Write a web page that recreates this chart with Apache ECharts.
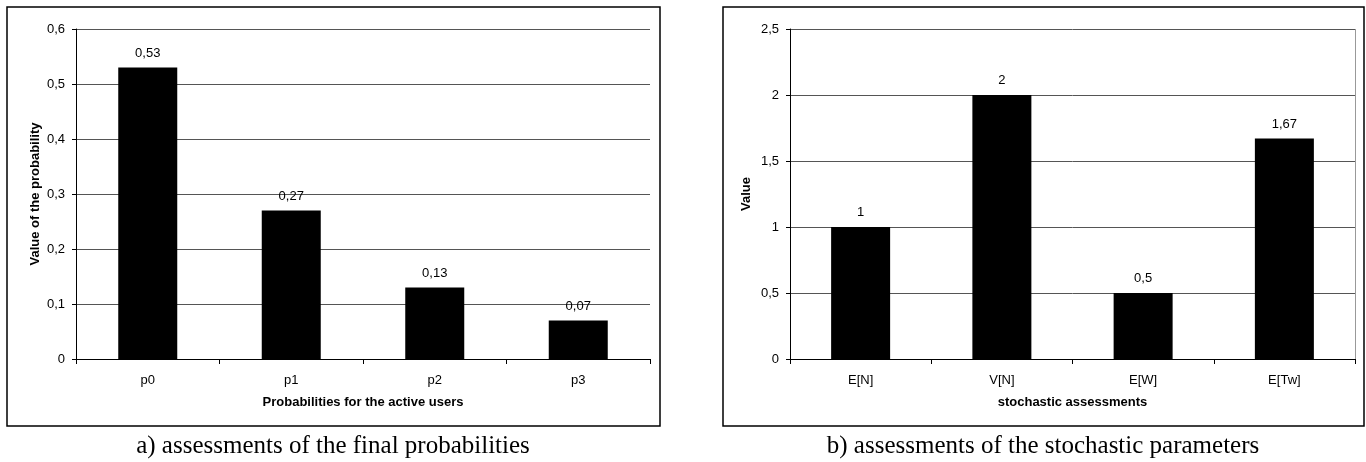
<!DOCTYPE html>
<html>
<head>
<meta charset="utf-8">
<script src="https://cdn.jsdelivr.net/npm/echarts@6/dist/echarts.min.js"></script>
<style>
html,body{margin:0;padding:0;background:#fff;}
#c{width:1366px;height:462px;}
</style>
</head>
<body>
<div id="c"></div>
<script>
const categoriesA = ['p0', 'p1', 'p2', 'p3'];
const valuesA = [0.53, 0.27, 0.13, 0.07];
const categoriesB = ['E[N]', 'V[N]', 'E[W]', 'E[Tw]'];
const valuesB = [1, 2, 0.5, 1.67];
const captionA = 'a) assessments of the final probabilities';
const captionB = 'b) assessments of the stochastic parameters';

const fmt = v => String(Number(Number(v).toFixed(2))).replace('.', ',');
const font = 'Liberation Sans, Arial, sans-serif';
const serif = 'Liberation Serif, Times New Roman, serif';

const chart = echarts.init(document.getElementById('c'));

function xAxis(idx, data, name) {
  return {
    type: 'category', gridIndex: idx, data: data,
    axisLine: {lineStyle: {color: '#000', width: 1}},
    axisTick: {show: true, alignWithLabel: false, length: 5, lineStyle: {color: '#000'}},
    axisLabel: {color: '#000', fontFamily: font, fontSize: 13, margin: 15},
    name: name, nameLocation: 'middle', nameGap: 37,
    nameTextStyle: {color: '#000', fontFamily: font, fontSize: 13, fontWeight: 'bold'}
  };
}
function yAxis(idx, max, interval, name, gap) {
  return {
    type: 'value', gridIndex: idx, min: 0, max: max, interval: interval,
    axisLine: {show: true, lineStyle: {color: '#000', width: 1}},
    axisTick: {show: true, length: 4, lineStyle: {color: '#000'}},
    axisLabel: {color: '#000', fontFamily: font, fontSize: 13, margin: 11, formatter: fmt},
    splitLine: {show: true, lineStyle: {color: '#555', width: 1}},
    name: name, nameLocation: 'middle', nameGap: gap, nameRotate: 90,
    nameTextStyle: {color: '#000', fontFamily: font, fontSize: 13, fontWeight: 'bold'}
  };
}
function bars(idx, vals) {
  return {
    type: 'bar', xAxisIndex: idx, yAxisIndex: idx, data: vals, barWidth: 59,
    itemStyle: {color: '#000'},
    label: {show: true, position: 'top', distance: 8, color: '#000', fontFamily: font, fontSize: 13,
            formatter: p => fmt(p.value)},
    animation: false
  };
}

chart.setOption({
  animation: false,
  title: [
    {text: captionA, left: 333, top: 434, textAlign: 'center', padding: 0,
     textStyle: {fontFamily: serif, fontSize: 25, fontWeight: 'normal', color: '#000'}},
    {text: captionB, left: 1043, top: 434, textAlign: 'center', padding: 0,
     textStyle: {fontFamily: serif, fontSize: 25, fontWeight: 'normal', color: '#000'}}
  ],
  grid: [
    {left: 76, top: 29, width: 574, height: 330},
    {left: 790, top: 29, width: 565, height: 330}
  ],
  xAxis: [xAxis(0, categoriesA, 'Probabilities for the active users'), xAxis(1, categoriesB, 'stochastic assessments')],
  yAxis: [yAxis(0, 0.6, 0.1, 'Value of the probability', 34), yAxis(1, 2.5, 0.5, 'Value', 37)],
  series: [bars(0, valuesA), bars(1, valuesB)],
  graphic: [
    {type: 'rect', shape: {x: 7, y: 7, width: 653, height: 419}, style: {fill: 'none', stroke: '#000', lineWidth: 1.5}, silent: true},
    {type: 'rect', shape: {x: 723, y: 7, width: 641, height: 419}, style: {fill: 'none', stroke: '#000', lineWidth: 1.5}, silent: true},
    {type: 'line', shape: {x1: 1355.5, y1: 29, x2: 1355.5, y2: 359}, style: {stroke: '#999', lineWidth: 1}, silent: true}
  ]
});
</script>
</body>
</html>
